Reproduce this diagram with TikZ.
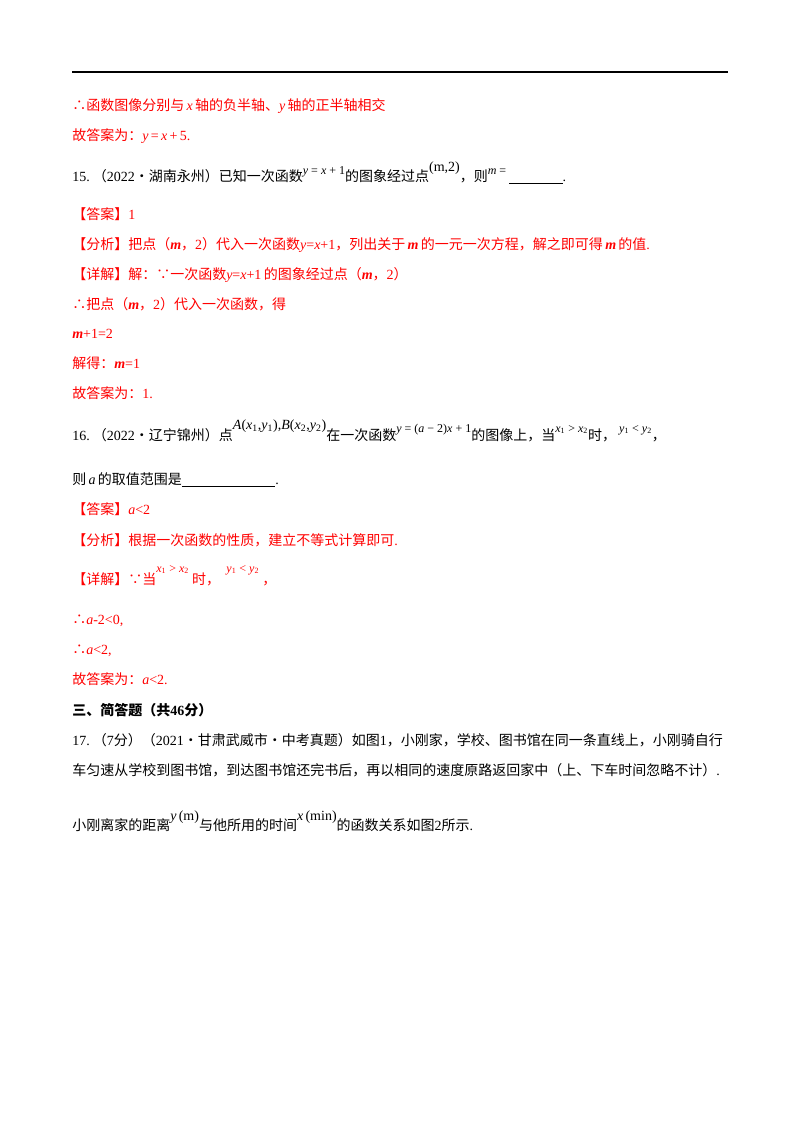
\documentclass[tikz,border=0pt]{standalone}
\usepackage{fontspec}
\setmainfont{Noto Sans CJK SC}
\newfontfamily\ser{Liberation Serif}
\newcommand\mi[1]{{\ser\itshape #1}}
\newcommand\mr[1]{{\ser #1}}
\newcommand\up[2]{\raisebox{#1}{\fontsize{9}{10}\selectfont\ser #2}}
\definecolor{ans}{RGB}{255,0,0}
\begin{document}
\begin{tikzpicture}[x=0.75pt,y=-0.75pt,
  ln/.style={anchor=base west,inner sep=0pt,font=\fontsize{10.5}{12}\selectfont},
  rd/.style={ln,text=ans}]
\useasboundingbox (0,0) rectangle (800,1132);
\draw[line width=1.2pt] (72,72) -- (728,72);
\node[rd] (l1) at (72,110) {∴函数图像分别与\,\mi{x}\,轴的负半轴、\mi{y}\,轴的正半轴相交};
\node[rd] (l2) at (72,140) {故答案为：\mi{y}\,\mr{=}\,\mi{x}\,\mr{+}\,\mr{5}\mr{.}};
\node[ln] (l3) at (72,181) {\mr{15.}\ （\mr{2022}·湖南永州）已知一次函数\up{5pt}{\textit{y} = \textit{x} + 1}的图象经过点\raisebox{7pt}{\ser(m,2)}，则\up{5pt}{\textit{m} =}\ \underline{\hspace{40pt}}\mr{.}};
\node[rd] (l4) at (72,219) {【答案】\mr{1}};
\node[rd] (l5) at (72,249) {【分析】把点（\mi{\bfseries m}，\mr{2}）代入一次函数\mi{y}\mr{=}\mi{x}\mr{+1}，列出关于\,\mi{\bfseries m}\,的一元一次方程，解之即可得\,\mi{\bfseries m}\,的值\mr{.}};
\node[rd] (l6) at (72,279) {【详解】解：∵一次函数\mi{y}\mr{=}\mi{x}\mr{+1}\,的图象经过点（\mi{\bfseries m}，\mr{2}）};
\node[rd] (l7) at (72,309) {∴把点（\mi{\bfseries m}，\mr{2}）代入一次函数，得};
\node[rd] (l8) at (72,338) {\mi{\bfseries m}\mr{+1=2}};
\node[rd] (l9) at (72,368) {解得：\mi{\bfseries m}\mr{=1}};
\node[rd] (l10) at (72,398) {故答案为：\mr{1.}};
\node[ln] (l11) at (72,440) {\mr{16.}\ （\mr{2022}·辽宁锦州）点\raisebox{8pt}{\ser\textit{A}(\textit{x}\textsubscript{1},\textit{y}\textsubscript{1}),\textit{B}(\textit{x}\textsubscript{2},\textit{y}\textsubscript{2})}在一次函数\up{6pt}{\textit{y} = (\textit{a} − 2)\textit{x} + 1}的图像上，当\up{6pt}{\textit{x}\textsubscript{1} > \textit{x}\textsubscript{2}}时，\ \up{6pt}{\textit{y}\textsubscript{1} < \textit{y}\textsubscript{2}}，};
\node[ln] (l12) at (72,484) {则\,\mi{a}\,的取值范围是\underline{\hspace{70pt}}\mr{.}};
\node[rd] (l13) at (72,514) {【答案】\mi{a}\mr{<2}};
\node[rd] (l14) at (72,545) {【分析】根据一次函数的性质，建立不等式计算即可\mr{.}};
\node[rd] (l15) at (72,584) {【详解】∵当\up{9pt}{\textit{x}\textsubscript{1} > \textit{x}\textsubscript{2}}\ 时，\ \ \up{9pt}{\textit{y}\textsubscript{1} < \textit{y}\textsubscript{2}}\ ，};
\node[rd] (l16) at (72,624) {∴\mi{a}\mr{-2<0,}};
\node[rd] (l17) at (72,654) {∴\mi{a}\mr{<2,}};
\node[rd] (l18) at (72,684) {故答案为：\mi{a}\mr{<2.}};
\node[ln,font=\fontsize{10.5}{12}\selectfont\bfseries] (l19) at (72,715) {三、简答题（共\mr{\bfseries 46}分）};
\node[ln] (l20) at (72,745) {\mr{17.}\ （\mr{7}分）（\mr{2021}·甘肃武威市·中考真题）如图\mr{1}，小刚家，学校、图书馆在同一条直线上，小刚骑自行};
\node[ln] (l21) at (72,775) {车匀速从学校到图书馆，到达图书馆还完书后，再以相同的速度原路返回家中（上、下车时间忽略不计）\mr{.}};
\node[ln] (l22) at (72,830) {小刚离家的距离\raisebox{7pt}{\ser\textit{y}\,(m)}与他所用的时间\raisebox{7pt}{\ser\textit{x}\,(min)}的函数关系如图\mr{2}所示\mr{.}};
\end{tikzpicture}
\end{document}
